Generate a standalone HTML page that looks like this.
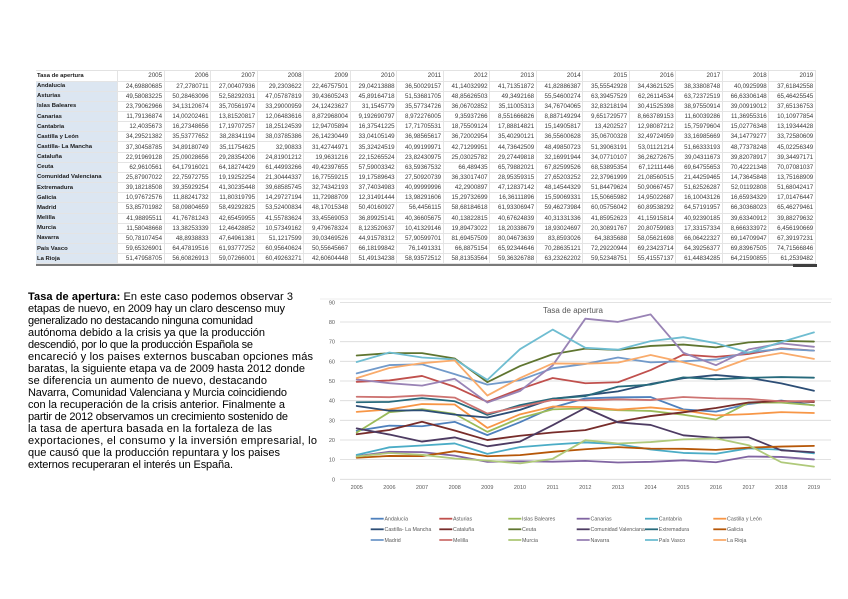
<!DOCTYPE html>
<html><head><meta charset="utf-8">
<style>
html,body{margin:0;padding:0}
body{width:848px;height:599px;background:#fff;position:relative;overflow:hidden;font-family:"Liberation Sans",sans-serif}
.g{position:absolute;left:36px;top:69.5px;display:grid;grid-template-columns:82px repeat(15,46.53px);grid-template-rows:11px repeat(18,10.17px);border-top:1px solid #e2e2e2}
.g>*{box-sizing:border-box;border-right:1px solid #e4e4e4;border-bottom:1px solid #e4e4e4;font-size:6.2px;color:#3c3c3c;display:flex;align-items:center;justify-content:flex-end;padding-right:1.5px;white-space:nowrap;overflow:hidden;font-weight:normal}
.g>b{justify-content:flex-start;padding-left:1px;padding-right:0;font-size:5.9px;font-weight:bold;background:#dce6f1;color:#1a1a1a}
.g>b.h{background:#fff}
.bar{position:absolute;left:36px;top:264.3px;width:781px;height:2px;background:#7a7a7a}
.thumb{position:absolute;left:793px;top:263.8px;width:24px;height:3px;background:#3e3e3e}
svg{position:absolute;left:0;top:0}
</style></head><body>
<div class="g">
<b class="h">Tasa de apertura</b><span>2005</span><span>2006</span><span>2007</span><span>2008</span><span>2009</span><span>2010</span><span>2011</span><span>2012</span><span>2013</span><span>2014</span><span>2015</span><span>2016</span><span>2017</span><span>2018</span><span>2019</span>
<b>Andalucía</b><span>24,69880685</span><span>27,2780711</span><span>27,00407936</span><span>29,2303622</span><span>22,46757501</span><span>29,04213888</span><span>36,50029157</span><span>41,14032992</span><span>41,71351872</span><span>41,82886387</span><span>35,55542928</span><span>34,43621525</span><span>38,33808748</span><span>40,0925998</span><span>37,61842558</span>
<b>Asturias</b><span>49,58083225</span><span>50,28463096</span><span>52,58292031</span><span>47,05787819</span><span>39,43605243</span><span>45,89164718</span><span>51,53681705</span><span>48,85626503</span><span>49,3492168</span><span>55,54600274</span><span>63,39457529</span><span>62,26114534</span><span>63,72372519</span><span>66,63306148</span><span>65,46425545</span>
<b>Islas Baleares</b><span>23,79062966</span><span>34,13120674</span><span>35,70561974</span><span>33,29000959</span><span>24,12423627</span><span>31,1545779</span><span>35,57734726</span><span>36,06702852</span><span>35,11005313</span><span>34,76704065</span><span>32,83218194</span><span>30,41525398</span><span>38,97550914</span><span>39,00919012</span><span>37,65136753</span>
<b>Canarias</b><span>11,79136874</span><span>14,00202461</span><span>13,81520817</span><span>12,06483616</span><span>8,872968004</span><span>9,192690797</span><span>8,972276005</span><span>9,35937266</span><span>8,551666826</span><span>8,887149294</span><span>9,651729577</span><span>8,663789153</span><span>11,60039286</span><span>11,36955316</span><span>10,10977854</span>
<b>Cantabria</b><span>12,4035673</span><span>16,27348656</span><span>17,19707257</span><span>18,25124539</span><span>12,94705894</span><span>16,37541225</span><span>17,71705531</span><span>18,75509124</span><span>17,88814821</span><span>15,14905817</span><span>13,4202527</span><span>12,98087212</span><span>15,75979604</span><span>15,02776348</span><span>13,19344428</span>
<b>Castilla y León</b><span>34,29521382</span><span>35,53777652</span><span>38,28341194</span><span>38,03785386</span><span>26,14230449</span><span>33,04105149</span><span>36,98565617</span><span>36,72002954</span><span>35,40290121</span><span>36,55600628</span><span>35,06700328</span><span>32,49724959</span><span>33,16985669</span><span>34,14779277</span><span>33,72580609</span>
<b>Castilla- La Mancha</b><span>37,30458785</span><span>34,89180749</span><span>35,11754625</span><span>32,90833</span><span>31,42744971</span><span>35,32424519</span><span>40,99199971</span><span>42,71299951</span><span>44,73642509</span><span>48,49850723</span><span>51,39063191</span><span>53,01121214</span><span>51,66333193</span><span>48,77378248</span><span>45,02256349</span>
<b>Cataluña</b><span>22,91969128</span><span>25,09028656</span><span>29,28354206</span><span>24,81901212</span><span>19,9631216</span><span>22,15265524</span><span>23,82430975</span><span>25,03025782</span><span>29,27449818</span><span>32,16991944</span><span>34,07710107</span><span>36,26272675</span><span>39,04311673</span><span>39,82078917</span><span>39,34497171</span>
<b>Ceuta</b><span>62,9610561</span><span>64,17916021</span><span>64,18274429</span><span>61,44993266</span><span>49,42397655</span><span>57,59003342</span><span>63,59367532</span><span>66,489435</span><span>65,79882021</span><span>67,82599526</span><span>68,53895354</span><span>67,12111446</span><span>69,64755653</span><span>70,42221348</span><span>70,07081037</span>
<b>Comunidad Valenciana</b><span>25,87907022</span><span>22,75972755</span><span>19,19252254</span><span>21,30444337</span><span>16,77559215</span><span>19,17589643</span><span>27,50920739</span><span>36,33017407</span><span>28,95359315</span><span>27,65203252</span><span>22,37961999</span><span>21,08560515</span><span>21,44259465</span><span>14,73645848</span><span>13,75168909</span>
<b>Extremadura</b><span>39,18218508</span><span>39,35929254</span><span>41,30235448</span><span>39,68585745</span><span>32,74342193</span><span>37,74034983</span><span>40,99999996</span><span>42,2900897</span><span>47,12837142</span><span>48,14544329</span><span>51,84479624</span><span>50,90667457</span><span>51,62526287</span><span>52,01192808</span><span>51,68042417</span>
<b>Galicia</b><span>10,97672576</span><span>11,88241732</span><span>11,80319795</span><span>14,29727194</span><span>11,72988709</span><span>12,31491444</span><span>13,98291606</span><span>15,29732699</span><span>16,36111896</span><span>15,59069331</span><span>15,50665982</span><span>14,95022687</span><span>16,10043126</span><span>16,65934329</span><span>17,01476447</span>
<b>Madrid</b><span>53,85701982</span><span>58,09804659</span><span>58,49292825</span><span>53,52400834</span><span>48,17015348</span><span>50,40160927</span><span>56,4456115</span><span>58,68184618</span><span>61,93306947</span><span>59,46273984</span><span>60,05756042</span><span>60,89538292</span><span>64,57191957</span><span>66,30368023</span><span>65,46279461</span>
<b>Melilla</b><span>41,98895511</span><span>41,76781243</span><span>42,65459955</span><span>41,55783624</span><span>33,45569053</span><span>36,89925141</span><span>40,36605675</span><span>40,13822815</span><span>40,67624839</span><span>40,31331336</span><span>41,85952623</span><span>41,15915814</span><span>40,92390185</span><span>39,63340912</span><span>39,88279632</span>
<b>Murcia</b><span>11,58048668</span><span>13,38253339</span><span>12,46428852</span><span>10,57349162</span><span>9,479678324</span><span>8,123520637</span><span>10,41329146</span><span>19,89473022</span><span>18,20338679</span><span>18,93024697</span><span>20,30891767</span><span>20,80759983</span><span>17,33157334</span><span>8,666333972</span><span>6,456190669</span>
<b>Navarra</b><span>50,78107454</span><span>48,8938833</span><span>47,64961381</span><span>51,1217599</span><span>39,03469526</span><span>44,91578312</span><span>57,90599701</span><span>81,69457509</span><span>80,04673639</span><span>83,8593026</span><span>64,3835688</span><span>58,05621698</span><span>66,06422327</span><span>69,14709947</span><span>67,39197231</span>
<b>País Vasco</b><span>59,65326901</span><span>64,47819516</span><span>61,93777252</span><span>60,95640624</span><span>50,55645667</span><span>66,18199842</span><span>76,1491331</span><span>66,8875154</span><span>65,92344646</span><span>70,28635121</span><span>72,29220944</span><span>69,23423714</span><span>64,39256377</span><span>69,83967505</span><span>74,71566846</span>
<b>La Rioja</b><span>51,47958705</span><span>56,60826913</span><span>59,07266001</span><span>60,49263271</span><span>42,60604448</span><span>51,49134238</span><span>58,93572512</span><span>58,81353564</span><span>59,36326788</span><span>63,23262202</span><span>59,52348751</span><span>55,41557137</span><span>61,44834285</span><span>64,21590855</span><span>61,2539482</span>
</div>
<div class="bar"></div><div class="thumb"></div>

<svg width="848" height="599" viewBox="0 0 848 599" xmlns="http://www.w3.org/2000/svg" font-family="Liberation Sans, sans-serif">
<g font-size="11" fill="#000">
<text x="28" y="300" textLength="265" lengthAdjust="spacing"><tspan font-weight="bold">Tasa de apertura:</tspan> En este caso podemos observar 3</text>
<text x="28" y="312" textLength="257" lengthAdjust="spacing">etapas de nuevo, en 2009 hay un claro descenso muy</text>
<text x="28" y="324" textLength="225" lengthAdjust="spacing">generalizado no destacando ninguna comunidad</text>
<text x="28" y="336" textLength="237" lengthAdjust="spacing">autónoma debido a la crisis ya que la producción</text>
<text x="28" y="348" textLength="225" lengthAdjust="spacing">descendió, por lo que la producción Española se</text>
<text x="28" y="360" textLength="285" lengthAdjust="spacing">encareció y los paises externos buscaban opciones más</text>
<text x="28" y="372" textLength="277" lengthAdjust="spacing">baratas, la siguiente etapa va de 2009 hasta 2012 donde</text>
<text x="28" y="384" textLength="239" lengthAdjust="spacing">se diferencia un aumento de nuevo, destacando</text>
<text x="28" y="396" textLength="259" lengthAdjust="spacing">Navarra, Comunidad Valenciana y Murcia coincidiendo</text>
<text x="28" y="408" textLength="257" lengthAdjust="spacing">con la recuperación de la crisis anterior. Finalmente a</text>
<text x="28" y="420" textLength="260" lengthAdjust="spacing">partir de 2012 observamos un crecimiento sostenido de</text>
<text x="28" y="432" textLength="244" lengthAdjust="spacing">la tasa de apertura basada en la fortaleza de las</text>
<text x="28" y="444" textLength="289" lengthAdjust="spacing">exportaciones, el consumo y la inversión empresarial, lo</text>
<text x="28" y="456" textLength="252" lengthAdjust="spacing">que causó que la producción repuntara y los paises</text>
<text x="28" y="468" textLength="205" lengthAdjust="spacing">externos recuperaran el interés un España.</text>
</g>

<line x1="320" y1="299" x2="832" y2="299" stroke="#e6e6e6" stroke-width="0.8"/>
<g stroke="#d9d9d9" stroke-width="0.8">
<line x1="340" x2="831" y1="302.4" y2="302.4"/>
<line x1="340" x2="831" y1="322.0" y2="322.0"/>
<line x1="340" x2="831" y1="341.7" y2="341.7"/>
<line x1="340" x2="831" y1="361.3" y2="361.3"/>
<line x1="340" x2="831" y1="381.0" y2="381.0"/>
<line x1="340" x2="831" y1="400.7" y2="400.7"/>
<line x1="340" x2="831" y1="420.3" y2="420.3"/>
<line x1="340" x2="831" y1="440.0" y2="440.0"/>
<line x1="340" x2="831" y1="459.6" y2="459.6"/>
<line x1="340" x2="831" y1="479.3" y2="479.3"/>
</g>
<g font-size="5.5" fill="#595959" text-anchor="end">
<text x="335" y="304.4">90</text><text x="335" y="324">80</text><text x="335" y="343.7">70</text><text x="335" y="363.3">60</text><text x="335" y="383">50</text><text x="335" y="402.7">40</text><text x="335" y="422.3">30</text><text x="335" y="442">20</text><text x="335" y="461.6">10</text><text x="335" y="481.3">0</text>
</g>
<g font-size="5.5" fill="#595959" text-anchor="middle">
<text x="356.7" y="489">2005</text><text x="389.4" y="489">2006</text><text x="422.0" y="489">2007</text><text x="454.7" y="489">2008</text><text x="487.3" y="489">2009</text><text x="520.0" y="489">2010</text><text x="552.7" y="489">2011</text><text x="585.3" y="489">2012</text><text x="618.0" y="489">2013</text><text x="650.6" y="489">2014</text><text x="683.3" y="489">2015</text><text x="716.0" y="489">2016</text><text x="748.6" y="489">2017</text><text x="781.3" y="489">2018</text><text x="813.9" y="489">2019</text>
</g>
<text x="573" y="313" text-anchor="middle" font-size="8" fill="#595959">Tasa de apertura</text>

<g transform="translate(356.7 479.3) scale(32.66 -1.966)" fill="none" stroke-width="1.8" stroke-linejoin="round" stroke-linecap="round">
<polyline vector-effect="non-scaling-stroke" stroke="#4F81BD" points="0,24.70 1,27.28 2,27.00 3,29.23 4,22.47 5,29.04 6,36.50 7,41.14 8,41.71 9,41.83 10,35.56 11,34.44 12,38.34 13,40.09 14,37.62"/>
<polyline vector-effect="non-scaling-stroke" stroke="#C0504D" points="0,49.58 1,50.28 2,52.58 3,47.06 4,39.44 5,45.89 6,51.54 7,48.86 8,49.35 9,55.55 10,63.39 11,62.26 12,63.72 13,66.63 14,65.46"/>
<polyline vector-effect="non-scaling-stroke" stroke="#9BBB59" points="0,23.79 1,34.13 2,35.71 3,33.29 4,24.12 5,31.15 6,35.58 7,36.07 8,35.11 9,34.77 10,32.83 11,30.42 12,38.98 13,39.01 14,37.65"/>
<polyline vector-effect="non-scaling-stroke" stroke="#8064A2" points="0,11.79 1,14.00 2,13.82 3,12.06 4,8.87 5,9.19 6,8.97 7,9.36 8,8.55 9,8.89 10,9.65 11,8.66 12,11.60 13,11.37 14,10.11"/>
<polyline vector-effect="non-scaling-stroke" stroke="#4BACC6" points="0,12.40 1,16.27 2,17.20 3,18.25 4,12.95 5,16.38 6,17.72 7,18.76 8,17.89 9,15.15 10,13.42 11,12.98 12,15.76 13,15.03 14,13.19"/>
<polyline vector-effect="non-scaling-stroke" stroke="#F79646" points="0,34.30 1,35.54 2,38.28 3,38.04 4,26.14 5,33.04 6,36.99 7,36.72 8,35.40 9,36.56 10,35.07 11,32.50 12,33.17 13,34.15 14,33.73"/>
<polyline vector-effect="non-scaling-stroke" stroke="#2C4D75" points="0,37.30 1,34.89 2,35.12 3,32.91 4,31.43 5,35.32 6,40.99 7,42.71 8,44.74 9,48.50 10,51.39 11,53.01 12,51.66 13,48.77 14,45.02"/>
<polyline vector-effect="non-scaling-stroke" stroke="#772C2A" points="0,22.92 1,25.09 2,29.28 3,24.82 4,19.96 5,22.15 6,23.82 7,25.03 8,29.27 9,32.17 10,34.08 11,36.26 12,39.04 13,39.82 14,39.34"/>
<polyline vector-effect="non-scaling-stroke" stroke="#5F7530" points="0,62.96 1,64.18 2,64.18 3,61.45 4,49.42 5,57.59 6,63.59 7,66.49 8,65.80 9,67.83 10,68.54 11,67.12 12,69.65 13,70.42 14,70.07"/>
<polyline vector-effect="non-scaling-stroke" stroke="#4D3B62" points="0,25.88 1,22.76 2,19.19 3,21.30 4,16.78 5,19.18 6,27.51 7,36.33 8,28.95 9,27.65 10,22.38 11,21.09 12,21.44 13,14.74 14,13.75"/>
<polyline vector-effect="non-scaling-stroke" stroke="#276A7C" points="0,39.18 1,39.36 2,41.30 3,39.69 4,32.74 5,37.74 6,41.00 7,42.29 8,47.13 9,48.15 10,51.84 11,50.91 12,51.63 13,52.01 14,51.68"/>
<polyline vector-effect="non-scaling-stroke" stroke="#B65708" points="0,10.98 1,11.88 2,11.80 3,14.30 4,11.73 5,12.31 6,13.98 7,15.30 8,16.36 9,15.59 10,15.51 11,14.95 12,16.10 13,16.66 14,17.01"/>
<polyline vector-effect="non-scaling-stroke" stroke="#729ACA" points="0,53.86 1,58.10 2,58.49 3,53.52 4,48.17 5,50.40 6,56.45 7,58.68 8,61.93 9,59.46 10,60.06 11,60.90 12,64.57 13,66.30 14,65.46"/>
<polyline vector-effect="non-scaling-stroke" stroke="#CD7371" points="0,41.99 1,41.77 2,42.65 3,41.56 4,33.46 5,36.90 6,40.37 7,40.14 8,40.68 9,40.31 10,41.86 11,41.16 12,40.92 13,39.63 14,39.88"/>
<polyline vector-effect="non-scaling-stroke" stroke="#AFC97A" points="0,11.58 1,13.38 2,12.46 3,10.57 4,9.48 5,8.12 6,10.41 7,19.89 8,18.20 9,18.93 10,20.31 11,20.81 12,17.33 13,8.67 14,6.46"/>
<polyline vector-effect="non-scaling-stroke" stroke="#9983B5" points="0,50.78 1,48.89 2,47.65 3,51.12 4,39.03 5,44.92 6,57.91 7,81.69 8,80.05 9,83.86 10,64.38 11,58.06 12,66.06 13,69.15 14,67.39"/>
<polyline vector-effect="non-scaling-stroke" stroke="#6FBDD1" points="0,59.65 1,64.48 2,61.94 3,60.96 4,50.56 5,66.18 6,76.15 7,66.89 8,65.92 9,70.29 10,72.29 11,69.23 12,64.39 13,69.84 14,74.72"/>
<polyline vector-effect="non-scaling-stroke" stroke="#F9AB6B" points="0,51.48 1,56.61 2,59.07 3,60.49 4,42.61 5,51.49 6,58.94 7,58.81 8,59.36 9,63.23 10,59.52 11,55.42 12,61.45 13,64.22 14,61.25"/>
</g>

<g stroke-width="1.8">
<line x1="370.7" x2="383.7" y1="518.7" y2="518.7" stroke="#4F81BD"/>
<line x1="439.3" x2="452.3" y1="518.7" y2="518.7" stroke="#C0504D"/>
<line x1="508.3" x2="521.3" y1="518.7" y2="518.7" stroke="#9BBB59"/>
<line x1="576.7" x2="589.7" y1="518.7" y2="518.7" stroke="#8064A2"/>
<line x1="645" x2="658" y1="518.7" y2="518.7" stroke="#4BACC6"/>
<line x1="713.3" x2="726.3" y1="518.7" y2="518.7" stroke="#F79646"/>
<line x1="370.7" x2="383.7" y1="529.3" y2="529.3" stroke="#2C4D75"/>
<line x1="439.3" x2="452.3" y1="529.3" y2="529.3" stroke="#772C2A"/>
<line x1="508.3" x2="521.3" y1="529.3" y2="529.3" stroke="#5F7530"/>
<line x1="576.7" x2="589.7" y1="529.3" y2="529.3" stroke="#4D3B62"/>
<line x1="645" x2="658" y1="529.3" y2="529.3" stroke="#276A7C"/>
<line x1="713.3" x2="726.3" y1="529.3" y2="529.3" stroke="#B65708"/>
<line x1="370.7" x2="383.7" y1="540" y2="540" stroke="#729ACA"/>
<line x1="439.3" x2="452.3" y1="540" y2="540" stroke="#CD7371"/>
<line x1="508.3" x2="521.3" y1="540" y2="540" stroke="#AFC97A"/>
<line x1="576.7" x2="589.7" y1="540" y2="540" stroke="#9983B5"/>
<line x1="645" x2="658" y1="540" y2="540" stroke="#6FBDD1"/>
<line x1="713.3" x2="726.3" y1="540" y2="540" stroke="#F9AB6B"/>
</g>
<g font-size="5.3" fill="#595959">
<text x="384.5" y="520.6">Andalucía</text>
<text x="453" y="520.6">Asturias</text>
<text x="522" y="520.6">Islas Baleares</text>
<text x="590.5" y="520.6">Canarias</text>
<text x="658.8" y="520.6">Cantabria</text>
<text x="727" y="520.6">Castilla y León</text>
<text x="384.5" y="531.2">Castilla- La Mancha</text>
<text x="453" y="531.2">Cataluña</text>
<text x="522" y="531.2">Ceuta</text>
<text x="590.5" y="531.2">Comunidad Valenciana</text>
<text x="658.8" y="531.2">Extremadura</text>
<text x="727" y="531.2">Galicia</text>
<text x="384.5" y="541.9">Madrid</text>
<text x="453" y="541.9">Melilla</text>
<text x="522" y="541.9">Murcia</text>
<text x="590.5" y="541.9">Navarra</text>
<text x="658.8" y="541.9">País Vasco</text>
<text x="727" y="541.9">La Rioja</text>
</g>
</svg>
</body></html>
